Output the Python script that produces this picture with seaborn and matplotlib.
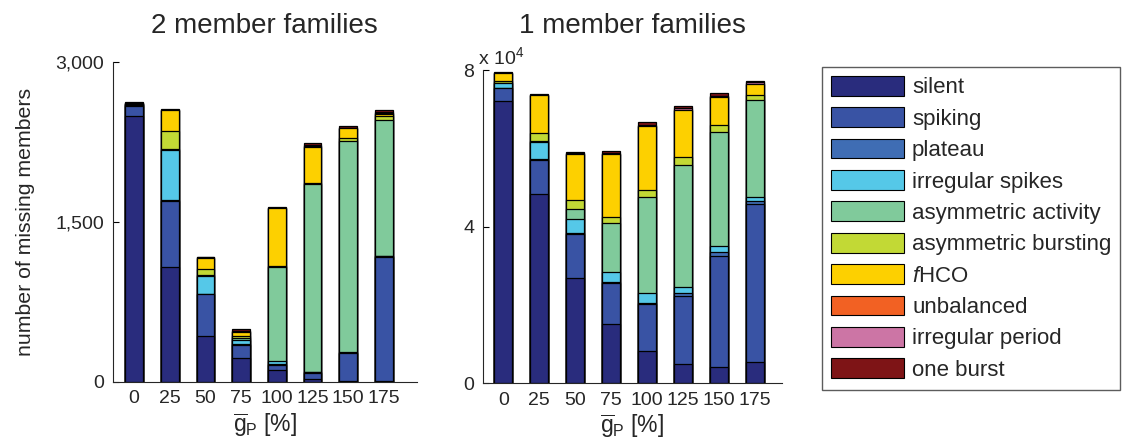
import seaborn as sns
import pandas as pd
import numpy as np
import matplotlib.pyplot as plt
from matplotlib.patches import Patch

# categories (g_P in %)
gp = ['0', '25', '50', '75', '100', '125', '150', '175']
classes = ['silent', 'spiking', 'plateau', 'irregular spikes', 'asymmetric activity',
           'asymmetric bursting', 'fHCO', 'unbalanced', 'irregular period', 'one burst']
legend_labels = ['silent', 'spiking', 'plateau', 'irregular spikes', 'asymmetric activity',
                 'asymmetric bursting', r'$\mathit{f}$HCO', 'unbalanced', 'irregular period', 'one burst']
colors = ['#292c7d', '#3953a4', '#3f6db4', '#55c8e8', '#80ca9b',
          '#c2d935', '#fdd000', '#f26123', '#cc75a5', '#7e1416']

# 2 member families (missing members per class)
two_silent = [2494, 1073, 428, 219, 107, 22, 3, 3]
two_spiking = [93, 621, 394, 122, 50, 62, 263, 1163]
two_plateau = [8, 5, 4, 8, 12, 4, 5, 8]
two_irr_spikes = [5, 473, 165, 42, 25, 6, 5, 6]
two_asym_act = [5, 5, 8, 20, 884, 1756, 1983, 1270]
two_asym_burst = [3, 170, 60, 22, 9, 16, 22, 41]
two_fhco = [5, 197, 101, 36, 538, 331, 94, 19]
two_unbal = [0, 2, 2, 5, 3, 10, 3, 5]
two_irr_period = [3, 3, 3, 5, 4, 8, 5, 15]
two_one_burst = [4, 4, 7, 12, 9, 20, 14, 14]

# 1 member families
one_silent = [72070, 48250, 26960, 15140, 8170, 4850, 4160, 5510]
one_spiking = [3250, 8760, 11240, 10540, 12000, 17440, 28420, 40260]
one_plateau = [200, 300, 300, 300, 410, 840, 1020, 690]
one_irr_spikes = [1080, 4220, 3370, 2510, 2400, 1380, 1450, 1180]
one_asym_act = [200, 300, 2630, 12360, 24580, 31300, 29030, 24610]
one_asym_burst = [460, 2150, 2300, 1680, 1710, 1890, 1860, 1350]
one_fhco = [1890, 9550, 11740, 15930, 16340, 12070, 7230, 2730]
one_unbal = [50, 50, 80, 100, 100, 100, 100, 100]
one_irr_period = [50, 50, 100, 200, 300, 400, 200, 450]
one_one_burst = [150, 150, 250, 540, 620, 600, 720, 300]

two = [two_silent, two_spiking, two_plateau, two_irr_spikes, two_asym_act,
       two_asym_burst, two_fhco, two_unbal, two_irr_period, two_one_burst]
one = [one_silent, one_spiking, one_plateau, one_irr_spikes, one_asym_act,
       one_asym_burst, one_fhco, one_unbal, one_irr_period, one_one_burst]

sns.set_style("ticks")
plt.rcParams['font.family'] = ['Liberation Sans', 'DejaVu Sans']
plt.rcParams['mathtext.fontset'] = 'custom'
plt.rcParams['mathtext.rm'] = 'Liberation Sans'
plt.rcParams['mathtext.it'] = 'Liberation Sans:italic'
plt.rcParams['text.color'] = '#262626'
plt.rcParams['xtick.color'] = 'black'
plt.rcParams['ytick.color'] = 'black'
plt.rcParams['xtick.labelcolor'] = '#262626'
plt.rcParams['ytick.labelcolor'] = '#262626'

fig = plt.figure(figsize=(11.28, 4.42), dpi=100)
ax1 = fig.add_axes([0.0999, 0.1364, 0.2698, 0.724])
ax2 = fig.add_axes([0.4279, 0.1328, 0.2651, 0.7088])


def stacked(ax, data):
    df = pd.DataFrame(np.array(data).T, columns=classes)
    df['gp'] = gp
    cum = df[classes].cumsum(axis=1)
    # draw tallest (cumulative) first so lower segments sit on top
    for i in range(len(classes) - 1, -1, -1):
        sns.barplot(x=df['gp'], y=cum[classes[i]], color=colors[i], width=0.5,
                    edgecolor='black', linewidth=0.9, saturation=1,
                    errorbar=None, ax=ax)
    sns.despine(ax=ax)
    ax.tick_params(direction='in', length=4, width=0.8, labelsize=14, pad=6)
    ax.set_xlabel(r'$\overline{\mathrm{g}}_{\mathrm{P}}$ [%]', fontsize=16.5, labelpad=3)
    ax.set_ylabel('')
    for s in ax.spines.values():
        s.set_linewidth(0.8)


stacked(ax1, two)
ax1.set_xlim(-0.6, 7.93)
ax1.set_ylim(0, 3000)
ax1.set_yticks([0, 1500, 3000])
ax1.set_yticklabels(['0', '1,500', '3,000'])
ax1.set_ylabel('number of missing members', fontsize=15.3, labelpad=15)
ax1.set_title('2 member families', fontsize=20, pad=21)

stacked(ax2, one)
ax2.set_xlim(-0.574, 7.75)
ax2.set_ylim(0, 80000)
ax2.set_yticks([0, 40000, 80000])
ax2.set_yticklabels(['0', '4', '8'])
ax2.set_title('1 member families', fontsize=20, pad=27)
fig.text(478 / 1128, 1 - 64 / 442, r'x 10$^{4}$', fontsize=14)

handles = [Patch(facecolor=c, edgecolor='black', linewidth=0.8) for c in colors]
leg = fig.legend(handles, legend_labels, loc='upper left',
                 bbox_to_anchor=(822 / 1128, 1 - 67 / 442), fontsize=16,
                 frameon=True, fancybox=False, edgecolor='#333333',
                 handlelength=3.3, handleheight=0.99, handletextpad=0.35,
                 labelspacing=0.4, borderpad=0.4, borderaxespad=0)
leg.get_frame().set_linewidth(1.0)

fig.savefig('out.png', dpi=100)
